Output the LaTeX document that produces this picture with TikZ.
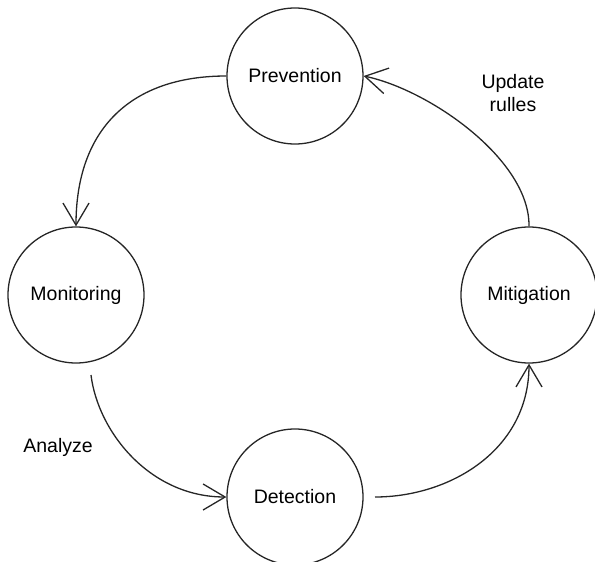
\documentclass[tikz,border=0pt]{standalone}
\usepackage{fontspec}
\setmainfont{Liberation Sans}
\usetikzlibrary{arrows.meta}
\begin{document}
\begin{tikzpicture}[x=1pt,y=-1pt,
  stage/.style={draw=black!85,line width=1.3pt,circle,minimum size=136pt,inner sep=0pt,font=\fontsize{19.5}{23}\selectfont},
  flow/.style={draw=black!85,line width=1.3pt,-{Straight Barb[length=22pt,width=26pt,line width=1.3pt]}},
  lbl/.style={font=\fontsize{19.5}{23}\selectfont,align=center,inner sep=0pt}]
\useasboundingbox (0,0) rectangle (595,562);
\node[stage] (prev) at (295,76) {Prevention};
\node[stage] (mon) at (76,295) {Monitoring};
\node[stage] (mit) at (529,295) {Mitigation};
\node[stage] (det) at (295,497) {Detection};
\coordinate (monout) at (91,375);
\coordinate (detout) at (375,497);
\draw[flow] (prev.west) .. controls (130,76) and (76,130) .. (mon.north);
\draw[flow] (monout) .. controls (98,432) and (150,497) .. (det.west);
\draw[flow] (detout) .. controls (450,497) and (529,450) .. (mit.south);
\draw[flow] (mit.north) .. controls (530,160) and (430,90) .. (prev.east);
\node[lbl] (an) at (58,447) {Analyze};
\node[lbl] (up) at (513,93) {Update\\rulles};
\end{tikzpicture}
\end{document}
